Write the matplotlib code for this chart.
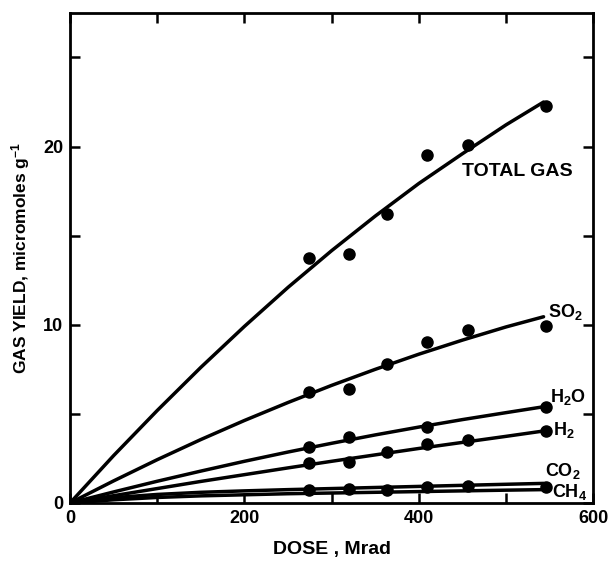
import matplotlib
matplotlib.use("Agg")
import matplotlib.pyplot as plt

plt.rcParams['font.family'] = ['Liberation Sans', 'DejaVu Sans']
plt.rcParams['font.weight'] = 'bold'
plt.rcParams['mathtext.default'] = 'regular'

# measured points (dose in Mrad)
dose_pts = [274, 320, 363, 409, 456, 546]
total_pts = [13.75, 13.95, 16.2, 19.5, 20.1, 22.25]
so2_pts = [6.24, 6.39, 7.79, 9.04, 9.68, 9.92]
h2o_pts = [3.16, 3.72, 4.28, 5.40]
h2o_dose = [274, 320, 409, 546]
h2_pts = [2.22, 2.28, 2.88, 3.31, 3.53, 4.04]
co2_pts = [0.73, 0.77, 0.73, 0.90, 0.95, 0.90]

# smooth curves
curve_dose = [0, 50, 100, 150, 200, 250, 300, 350, 400, 450, 500, 543]
total_curve = [0, 2.66, 5.19, 7.61, 9.91, 12.1, 14.16, 16.1, 17.93, 19.6, 21.22, 22.5]
so2_curve = [0, 1.24, 2.43, 3.56, 4.63, 5.64, 6.6, 7.5, 8.35, 9.14, 9.88, 10.45]
h2o_curve = [0, 0.62, 1.22, 1.79, 2.34, 2.86, 3.35, 3.82, 4.26, 4.68, 5.07, 5.4]
h2_curve = [0, 0.41, 0.81, 1.21, 1.59, 1.97, 2.34, 2.70, 3.06, 3.40, 3.74, 4.04]
co2_curve = [0, 0.30, 0.48, 0.60, 0.68, 0.75, 0.81, 0.87, 0.93, 0.99, 1.05, 1.10]
ch4_curve = [0, 0.18, 0.31, 0.40, 0.46, 0.52, 0.56, 0.60, 0.64, 0.68, 0.72, 0.75]

fig = plt.figure(figsize=(6.12, 5.62), dpi=100)
ax = fig.add_axes([0.1144, 0.105, 0.855, 0.872])

lw = 2.5
for c in [total_curve, so2_curve, h2o_curve, h2_curve, co2_curve, ch4_curve]:
    ax.plot(curve_dose, c, color='black', lw=lw, solid_capstyle='round')

ms = 8
ax.plot(dose_pts, total_pts, 'o', color='black', ms=ms)
ax.plot(dose_pts, so2_pts, 'o', color='black', ms=ms)
ax.plot(h2o_dose, h2o_pts, 'o', color='black', ms=ms)
ax.plot(dose_pts, h2_pts, 'o', color='black', ms=ms)
ax.plot(dose_pts, co2_pts, 'o', color='black', ms=ms)

fs = 13
ax.text(450, 18.6, 'TOTAL GAS', fontsize=14, fontweight='bold', va='center')
ax.text(548, 10.7, 'SO$_2$', fontsize=fs, fontweight='bold', va='center')
ax.text(550, 5.96, 'H$_2$O', fontsize=fs, fontweight='bold', va='center')
ax.text(554, 4.1, 'H$_2$', fontsize=fs, fontweight='bold', va='center')
ax.text(545, 1.8, 'CO$_2$', fontsize=fs, fontweight='bold', va='center')
ax.text(553, 0.62, 'CH$_4$', fontsize=fs, fontweight='bold', va='center')

ax.set_xlim(0, 600)
ax.set_ylim(0, 27.5)
ax.set_xticks([0, 100, 200, 300, 400, 500, 600])
ax.set_xticklabels(['0', '', '200', '', '400', '', '600'])
ax.set_yticks([0, 5, 10, 15, 20, 25])
ax.set_yticklabels(['0', '', '10', '', '20', ''])
ax.tick_params(direction='in', length=7, width=1.8, top=True, right=True,
               labelsize=13, pad=5)
for s in ax.spines.values():
    s.set_linewidth(2)

ax.set_xlabel('DOSE , Mrad', fontsize=14, fontweight='bold', labelpad=10)
ax.set_ylabel('GAS YIELD, micromoles g$^{-1}$', fontsize=12.5, fontweight='bold', labelpad=8)

fig.savefig('out.png', dpi=100)
